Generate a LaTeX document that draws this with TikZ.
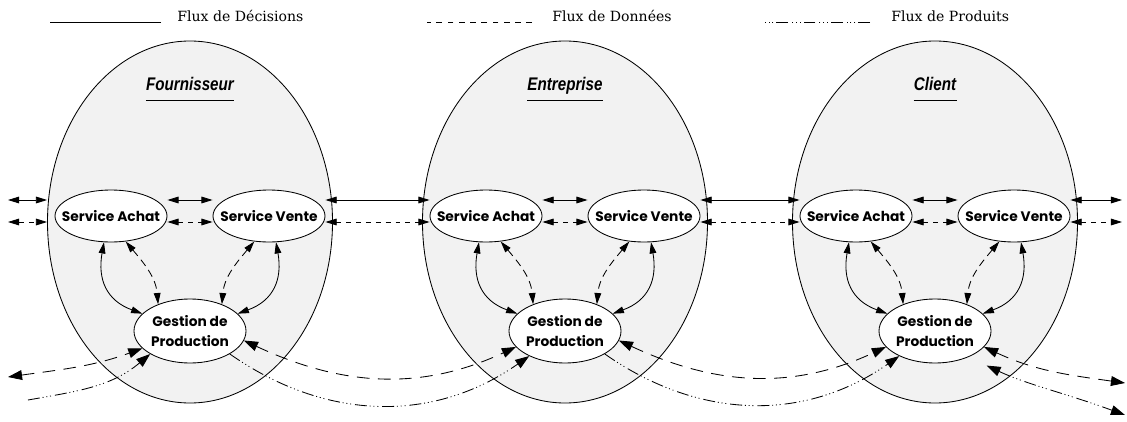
\documentclass[tikz,border=0pt]{standalone}
\usepackage{fontspec}
\setmainfont{DejaVu Serif}
\newfontfamily\svcfont{Poppins}
\newfontfamily\titrefont[FakeStretch=0.83]{Liberation Sans}
\usetikzlibrary{arrows.meta,shapes.geometric,positioning}

\begin{document}
\begin{tikzpicture}[>={Triangle[length=8pt,width=4.8pt]},semithick,
                    node distance=1.975cm]
  \tikzstyle{entite}=[ellipse,draw,fill=black!5,minimum width=7.125cm,
                      minimum height=9.05cm,inner sep=0pt]
  \tikzstyle{service}=[ellipse,draw,fill=white,minimum width=2.8cm,
                       minimum height=1.3cm,inner xsep=-0.5cm,inner ysep=0pt,
                       font=\svcfont\bfseries\fontsize{9.8}{12}\selectfont]
  \tikzstyle{gestion}=[service,minimum height=1.6cm,align=center,
                       font=\svcfont\bfseries\fontsize{9.8}{14.2}\selectfont]
  \tikzstyle{titre}=[inner xsep=0pt,inner ysep=0.237cm,text depth=0pt,
                     font=\titrefont\bfseries\itshape\fontsize{13}{15}\selectfont]
  \tikzstyle{legende}=[inner sep=0pt,font=\fontsize{10}{12}\selectfont]
  \tikzstyle{donnee}=[dash pattern=on 3.5pt off 3.5pt]
  \tikzstyle{donnee legende}=[dash pattern=on 4pt off 4pt]
  \tikzstyle{donnee interne}=[dash pattern=on 5.5pt off 3.5pt]
  \tikzstyle{donnee externe}=[dash pattern=on 9pt off 6pt]
  \tikzstyle{produit}=[dash pattern=on 8.5pt off 2pt on 0.7pt off 2pt on 0.7pt off 2pt on 0.7pt off 2.8pt]
  \tikzstyle{gros}=[>={Triangle[length=10pt,width=7pt]}]

  \useasboundingbox (0,0) rectangle (28.175,10.525);

  % legende
  \node[legende,anchor=base west] (lD) at (4.425,9.975) {Flux de Décisions};
  \node[legende,anchor=base west] (lF) at (13.8,9.975) {Flux de Données};
  \node[legende,anchor=base west] (lP) at (22.275,9.975) {Flux de Produits};
  \draw ([xshift=-0.4cm]lD.base west) -- ++(-2.775,0);
  \draw[donnee legende] ([xshift=-0.5cm]lF.base west) -- ++(-2.625,0);
  \draw[produit] ([xshift=-0.525cm]lP.base west) -- ++(-2.625,0);

  % entites
  \node[entite] (E1) at (4.75,4.975) {};
  \node[entite] (E2) at (14.125,4.975) {};
  \node[entite] (E3) at (23.375,4.975) {};

  \node[titre] (T1) [above of=E1,node distance=3.29cm,anchor=base] {Fournisseur};
  \node[titre] (T2) [above of=E2,node distance=3.29cm,anchor=base] {Entreprise};
  \node[titre] (T3) [above of=E3,node distance=3.29cm,anchor=base] {Client};
  \draw (T1.south west) -- (T1.south east);
  \draw (T2.south west) -- (T2.south east);
  \draw (T3.south west) -- (T3.south east);

  \node[service] (A1) [left of=E1,yshift=0.15cm]  {Service Achat};
  \node[service] (V1) [right of=E1,yshift=0.15cm] {Service Vente};
  \node[gestion] (G1) [below of=E1,node distance=2.725cm] {Gestion de\\Production};
  \node[service] (A2) [left of=E2,yshift=0.15cm]  {Service Achat};
  \node[service] (V2) [right of=E2,yshift=0.15cm] {Service Vente};
  \node[gestion] (G2) [below of=E2,node distance=2.725cm] {Gestion de\\Production};
  \node[service] (A3) [left of=E3,yshift=0.15cm]  {Service Achat};
  \node[service] (V3) [right of=E3,yshift=0.15cm] {Service Vente};
  \node[gestion] (G3) [below of=E3,node distance=2.725cm] {Gestion de\\Production};

  % niveaux et bouts libres
  \coordinate (hD) at (0,5.525);
  \coordinate (hF) at (0,4.975);
  \coordinate (gD) at (0.2,5.525);
  \coordinate (gF) at (0.2,4.975);
  \coordinate (dD) at (28.05,5.525);
  \coordinate (dF) at (28.05,4.975);
  \coordinate (gF2) at (0.2,1.1);
  \coordinate (gP) at (0.7,0.525);
  \coordinate (dF2) at (28.125,0.95);
  \coordinate (dP) at (28.125,0.15);

  \path[<->]
    (gD) edge (E1.west |- hD)
    (gF) edge[donnee] (E1.west |- hF)
    (A1.east |- hD) edge (V1.west |- hD)
    (A1.east |- hF) edge[donnee] (V1.west |- hF)
    (V1.east |- hD) edge (A2.west |- hD)
    (V1.east |- hF) edge[donnee] (A2.west |- hF)
    (A2.east |- hD) edge (V2.west |- hD)
    (A2.east |- hF) edge[donnee] (V2.west |- hF)
    (V2.east |- hD) edge (A3.west |- hD)
    (V2.east |- hF) edge[donnee] (A3.west |- hF)
    (A3.east |- hD) edge (V3.west |- hD)
    (A3.east |- hF) edge[donnee] (V3.west |- hF)
    (V3.east |- hD) edge (dD)
    (V3.east |- hF) edge[donnee] (dF);

  \path[<->]
    (A1.255) edge[out=-100,in=160,looseness=1.2] (G1.160)
    (A1.-60) edge[donnee interne,out=-50,in=95] (G1.140)
    (V1.285) edge[out=-80,in=20,looseness=1.2] (G1.20)
    (V1.240) edge[donnee interne,out=230,in=85] (G1.40)
    (A2.255) edge[out=-100,in=160,looseness=1.2] (G2.160)
    (A2.-60) edge[donnee interne,out=-50,in=95] (G2.140)
    (V2.285) edge[out=-80,in=20,looseness=1.2] (G2.20)
    (V2.240) edge[donnee interne,out=230,in=85] (G2.40)
    (A3.255) edge[out=-100,in=160,looseness=1.2] (G3.160)
    (A3.-60) edge[donnee interne,out=-50,in=95] (G3.140)
    (V3.285) edge[out=-80,in=20,looseness=1.2] (G3.20)
    (V3.240) edge[donnee interne,out=230,in=85] (G3.40);

  \path[gros]
    (gF2) edge[<->,donnee externe,out=8,in=200] (G1.200)
    (gP) edge[->,produit,out=10,in=220] (G1.210)
    (G1.-10) edge[<->,donnee externe,out=-25,in=205] (G2.198)
    (G1.-30) edge[->,produit,out=-35,in=215] (G2.215)
    (G2.-10) edge[<->,donnee externe,out=-25,in=205] (G3.198)
    (G2.-30) edge[->,produit,out=-35,in=215] (G3.215)
    (G3.-18) edge[<->,donnee externe,out=-25,in=172] (dF2)
    (G3.-38) edge[<->,produit,out=-25,in=160,shorten <=0.5cm] (dP);
\end{tikzpicture}
\end{document}
